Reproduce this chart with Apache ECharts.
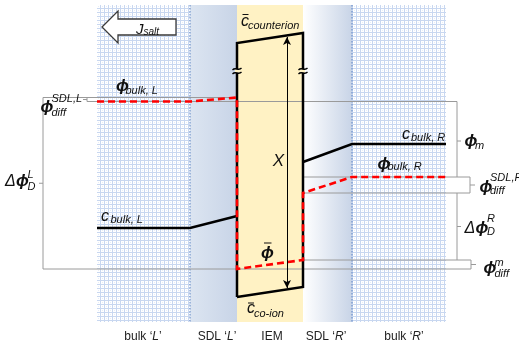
<!DOCTYPE html>
<html><head><meta charset="utf-8">
<script src="https://cdn.jsdelivr.net/npm/echarts@6/dist/echarts.min.js"></script>
<style>html,body{margin:0;padding:0;background:#fff}#c{width:519px;height:346px}</style>
</head><body><div id="c"></div>
<script>
// ---------- data (diagram units: x = position, y = level, axis inverted) ----------
const regionNames = ['bulk', 'SDL', 'IEM', 'SDL', 'bulk'];
const regionSides = ['L', 'L', '', 'R', 'R'];
const regionEdges = [97, 190, 237, 303, 352, 446];
const regionTop = 5, regionBottom = 322;

// concentration profile (black)
const cBulkL = 228, cSdlLEdge = 216;
const cCounterion = [43, 33];   // left, right membrane edge
const cCoion = [297, 287];      // left, right membrane edge
const cSdlREdge = 162, cBulkR = 144;

// potential profile (red dashed)
const phiBulkL = 101.5, phiSdlLEdge = 97.5;
const phiMem = [269, 260];      // left, right membrane edge
const phiSdlREdge = 193, phiBulkR = 177;

const F = '"Liberation Sans", Arial, sans-serif';
const E = regionEdges;

function patternCanvas() {
  const c = document.createElement('canvas'); c.width = 4; c.height = 4;
  const g = c.getContext('2d');
  g.fillStyle = '#ffffff'; g.fillRect(0, 0, 4, 4);
  g.fillStyle = '#c8d7f0'; g.fillRect(0, 0, 4, 1); g.fillRect(0, 0, 1, 4);
  g.fillStyle = '#e6edf8'; g.fillRect(2, 2, 1, 1);
  return c;
}
const pat = { image: patternCanvas(), repeat: 'repeat' };
const fills = [
  pat,
  new echarts.graphic.LinearGradient(0, 0, 1, 0, [{offset: 0, color: '#dce5f1'}, {offset: 1, color: '#c8d4e7'}]),
  '#fff2c4',
  new echarts.graphic.LinearGradient(0, 0, 1, 0, [{offset: 0, color: '#ffffff'}, {offset: 1, color: '#c8d4e7'}]),
  pat
];

// profiles
const cLeft = [[E[0], cBulkL], [E[1], cBulkL], [E[2], cSdlLEdge]];
const cMem = [[E[2], cCoion[0]], [E[2], cCounterion[0]], [E[3], cCounterion[1]], [E[3], cCoion[1]], [E[2], cCoion[0]]];
const cRight = [[E[3], cSdlREdge], [E[4], cBulkR], [E[5], cBulkR]];
const phi = [[E[0], phiBulkL], [E[1], phiBulkL], [E[2], phiSdlLEdge], [E[2], phiMem[0]], [E[3], phiMem[1]],
             [E[3], phiSdlREdge], [E[4], phiBulkR], [E[5], phiBulkR]];

// brackets (gray)
const mid = (a, b) => (a + b) / 2;
const brackets = [
  [[E[2], phiSdlLEdge], [43, phiSdlLEdge], [43, phiMem[0]], [471, phiMem[0]]],
  [[39, mid(phiSdlLEdge, phiMem[0])], [43, mid(phiSdlLEdge, phiMem[0])]],
  [[87, phiSdlLEdge], [87, phiBulkL], [457, phiBulkL], [457, phiBulkR]],
  [[83, mid(phiSdlLEdge, phiBulkL)], [87, mid(phiSdlLEdge, phiBulkL)]],
  [[457, 141], [461, 141]],
  [[E[3], phiBulkR], [470, phiBulkR], [470, phiSdlREdge], [E[3], phiSdlREdge]],
  [[470, mid(phiBulkR, phiSdlREdge)], [475, mid(phiBulkR, phiSdlREdge)]],
  [[457, phiSdlREdge], [457, phiMem[1]]],
  [[457, mid(phiSdlREdge, phiMem[1])], [461, mid(phiSdlREdge, phiMem[1])]],
  [[E[3], phiMem[1]], [471, phiMem[1]], [471, phiMem[0]]],
  [[471, mid(phiMem[0], phiMem[1])], [476, mid(phiMem[0], phiMem[1])]]
];

const lineS = (data, color, width, type, z) => ({
  type: 'line', data, symbol: 'none', silent: true, z, clip: false,
  lineStyle: {color, width, type: type || 'solid', cap: 'butt', join: 'miter'}
});

const series = [
  {
    type: 'custom', z: 0, silent: true, clip: false,
    data: regionNames.map((n, i) => [E[i], E[i + 1], i]),
    encode: {x: [0, 1], y: 2},
    renderItem: (params, api) => {
      const k = api.value(2);
      const p0 = api.coord([api.value(0), regionTop]);
      const p1 = api.coord([api.value(1), regionBottom]);
      return {type: 'rect', shape: {x: p0[0], y: p0[1], width: p1[0] - p0[0], height: p1[1] - p0[1]},
              style: {fill: fills[k]}};
    }
  },
  lineS([[E[1], regionTop], [E[1], regionBottom]], '#5b83c4', 1, [1.5, 1.5], 1),
  lineS([[E[4], regionTop], [E[4], regionBottom]], '#5b83c4', 1, [1.5, 1.5], 1),
  ...brackets.map(b => lineS(b, '#9a9a9a', 1, 'solid', 2)),
  lineS(cLeft, '#000', 2.5, 'solid', 3),
  lineS(cMem, '#000', 2.5, 'solid', 3),
  lineS(cRight, '#000', 2.5, 'solid', 3),
  lineS(phi, '#ff0000', 2.6, [7, 4], 4),
  {
    type: 'line', data: [], symbol: 'none', z: 5, silent: true,
    markLine: {
      silent: true, symbol: ['arrow', 'arrow'], symbolSize: [6, 8], animation: false,
      label: {show: false},
      lineStyle: {color: '#000', width: 1, type: 'solid'},
      data: [[{coord: [287, 37]}, {coord: [287, 288]}]]
    }
  },
  {
    type: 'custom', z: 6, silent: true, clip: false,
    data: [[E[2], 71], [E[3], 71]],
    renderItem: (params, api) => {
      const p = api.coord([api.value(0), api.value(1)]);
      const x = p[0], y = p[1];
      const tilde = yy => ({type: 'bezierCurve',
        shape: {x1: x - 4.5, y1: yy + 1, cpx1: x - 1.5, cpy1: yy - 2.5, cpx2: x + 1.5, cpy2: yy + 2.5, x2: x + 4.5, y2: yy - 1},
        style: {stroke: '#000', lineWidth: 1.3, fill: null}});
      return {type: 'group', children: [
        {type: 'rect', shape: {x: x - 2, y: y - 1.8, width: 4, height: 3.6}, style: {fill: '#fff2c4'}},
        tilde(y - 2), tilde(y + 2)
      ]};
    }
  }
];

// ---------- text ----------
function T(x, y, s, size, italic, align, color, bold) {
  return {type: 'text', z: 100, silent: true,
    style: {text: s, x, y, font: (italic ? 'italic ' : '') + (bold ? 'bold ' : '') + size + 'px ' + F,
            fill: color || '#111', textAlign: align || 'left', textVerticalAlign: 'middle'}};
}
function P(x, y, s, align) { return T(x, y, s, 17, true, align, '#111', true); }
function bar(x1, x2, y) {
  return {type: 'line', z: 100, silent: true, shape: {x1, y1: y, x2, y2: y}, style: {stroke: '#111', lineWidth: 1}};
}
const PH = '\u03D5';
const texts = [
  {type: 'polygon', z: 90, silent: true,
   shape: {points: [[102, 27], [118, 11], [118, 19], [176, 19], [176, 35], [118, 35], [118, 43]]},
   style: {fill: '#fff', stroke: '#3a3a3a', lineWidth: 1.3}},
  T(136, 29.5, 'J', 15, true), T(143.5, 32.5, 'salt', 10, true),
  T(241, 22, 'c', 16, true), bar(242.5, 248.5, 14.5), T(248, 25.5, 'counterion', 11, true),
  T(247, 309, 'c', 16, true), bar(248, 254, 303), T(254, 314, 'co-ion', 11, true),
  P(267.5, 253, PH, 'center'), bar(264, 271.5, 243),
  T(278.5, 161, 'X', 17, true, 'center'),
  P(116, 86, PH), T(125.5, 90.5, 'bulk, L', 11, true),
  P(40.5, 107.5, PH), T(51.5, 98.5, 'SDL,L', 11, true), T(51.5, 113, 'diff', 11, true),
  T(5, 181.5, '\u0394', 16, true), P(16, 181.5, PH), T(27.5, 175, 'L', 11, true), T(27.5, 187, 'D', 11, true),
  T(101, 216.5, 'c', 16, true), T(110.5, 220, 'bulk, L', 11, true),
  T(402, 135, 'c', 16, true), T(411, 138, 'bulk, R', 11, true),
  P(377.5, 164, PH), T(387.5, 167, 'bulk, R', 11, true),
  P(464.5, 141.5, PH), T(475, 146, 'm', 11, true),
  P(479.5, 187.5, PH), T(490, 177.5, 'SDL,R', 11, true), T(490, 190.5, 'diff', 11, true),
  T(464.5, 228.5, '\u0394', 16, true), P(475.5, 228.5, PH), T(487, 219, 'R', 11, true), T(487, 231.5, 'D', 11, true),
  P(483.5, 268.5, PH), T(494.5, 262.5, 'm', 11, true), T(494.5, 274, 'diff', 11, true)
];
const labelX = [143, 217, 272, 326, 404];
regionNames.forEach((n, i) => {
  const s = regionSides[i] ? '{a|' + n + ' \u2018}{i|' + regionSides[i] + '}{a|\u2019}' : '{a|' + n + '}';
  texts.push({type: 'text', z: 100, silent: true,
    style: {text: s, x: labelX[i], y: 337, textAlign: 'center', textVerticalAlign: 'middle',
      rich: {a: {font: '12px ' + F, fill: '#222'}, i: {font: 'italic 12px ' + F, fill: '#222'}}}});
});

const chart = echarts.init(document.getElementById('c'), null, {renderer: 'canvas'});
chart.setOption({
  animation: false,
  backgroundColor: '#fff',
  grid: {left: 0, right: 0, top: 0, bottom: 0},
  xAxis: {type: 'value', min: 0, max: 519, show: false},
  yAxis: {type: 'value', min: 0, max: 346, inverse: true, show: false},
  series,
  graphic: {elements: texts}
});
</script></body></html>
